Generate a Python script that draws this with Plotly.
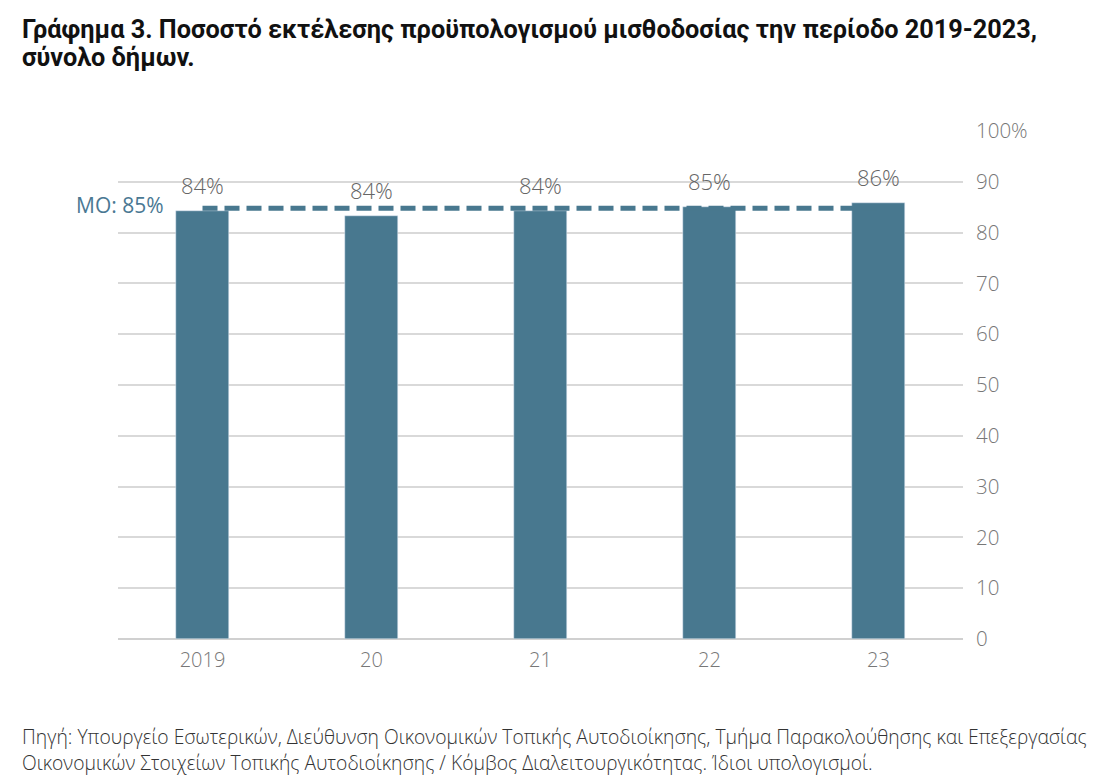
import plotly.graph_objects as go

years = ["2019", "20", "21", "22", "23"]
values = [84.2, 83.3, 84.2, 85.1, 85.9]
labels = ["84%", "84%", "84%", "85%", "86%"]
mean_value = 84.8
mean_label = "MO: 85%"
y_ticks = [0, 10, 20, 30, 40, 50, 60, 70, 80, 90, 100]
y_ticktext = ["0", "10", "20", "30", "40", "50", "60", "70", "80", "90", "100%"]

title_lines = ["Γράφημα 3. Ποσοστό εκτέλεσης προϋπολογισμού μισθοδοσίας την περίοδο 2019-2023,",
               "σύνολο δήμων."]
source_lines = ["Πηγή: Υπουργείο Εσωτερικών, Διεύθυνση Οικονομικών Τοπικής Αυτοδιοίκησης, "
                "Τμήμα Παρακολούθησης και Επεξεργασίας",
                "Οικονομικών Στοιχείων Τοπικής Αυτοδιοίκησης / Κόμβος Διαλειτουργικότητας. "
                "Ίδιοι υπολογισμοί."]

BAR = "#48788f"
W, H = 1103, 780
L, R, T, B = 118, 140, 131, 141
pw = W - L - R
ph = H - T - B


def px(xp):
    return (xp - L) / pw


def py(yp):
    return (H - B - yp) / ph


fig = go.Figure()
fig.add_trace(go.Bar(x=list(range(len(years))), y=values, marker_color=BAR,
                     width=0.315, hoverinfo="skip"))

fig.add_shape(type="line", xref="x", yref="y", x0=0, x1=len(years) - 1,
              y0=mean_value, y1=mean_value, layer="above",
              line=dict(color=BAR, width=5, dash="15px,7px"))

NUMFONT = "Open Sans"
ann = []
for i, (v, t) in enumerate(zip(values, labels)):
    ann.append(dict(x=i, y=v, text=t, showarrow=False, yshift=26, xref="x", yref="y",
                    font=dict(family=NUMFONT, size=22, color="#666666", weight=300)))
ann.append(dict(x=px(166), xref="paper", y=mean_value, yref="y", xanchor="right",
                text=mean_label, showarrow=False, yshift=3,
                font=dict(family=NUMFONT, size=21, color="#4a7893")))
for k, line in enumerate(title_lines):
    ann.append(dict(x=px(20), y=py(30 + 27 * k), xref="paper", yref="paper",
                    xanchor="left", yanchor="middle", text=line, showarrow=False,
                    font=dict(family="Roboto", size=25.3, color="#111111", weight="bold")))
for k, line in enumerate(source_lines):
    ann.append(dict(x=px(20), y=py(736 + 26 * k), xref="paper", yref="paper",
                    xanchor="left", yanchor="middle", text=line, showarrow=False,
                    font=dict(family=NUMFONT, size=19.3, color="#333333", weight=300)))

fig.update_layout(
    width=W, height=H,
    margin=dict(l=L, r=R, t=T, b=B, pad=0),
    paper_bgcolor="white", plot_bgcolor="white",
    showlegend=False,
    bargap=0,
    annotations=ann,
    xaxis=dict(range=[-0.5, len(years) - 0.5], tickvals=list(range(len(years))), ticktext=years,
               showgrid=False, zeroline=False, showline=False, ticks="",
               tickfont=dict(family=NUMFONT, size=20, color="#777777", weight=300),
               ticklabelstandoff=7),
    yaxis=dict(range=[0, 100], side="right", tickvals=y_ticks, ticktext=y_ticktext,
               showgrid=True, gridcolor="#d9d9d9", gridwidth=2, zeroline=True,
               zerolinecolor="#d0d0d0", zerolinewidth=2, showline=False, ticks="",
               tickfont=dict(family=NUMFONT, size=20.5, color="#777777", weight=300),
               ticklabelstandoff=12),
)

fig.write_html("out.html")
